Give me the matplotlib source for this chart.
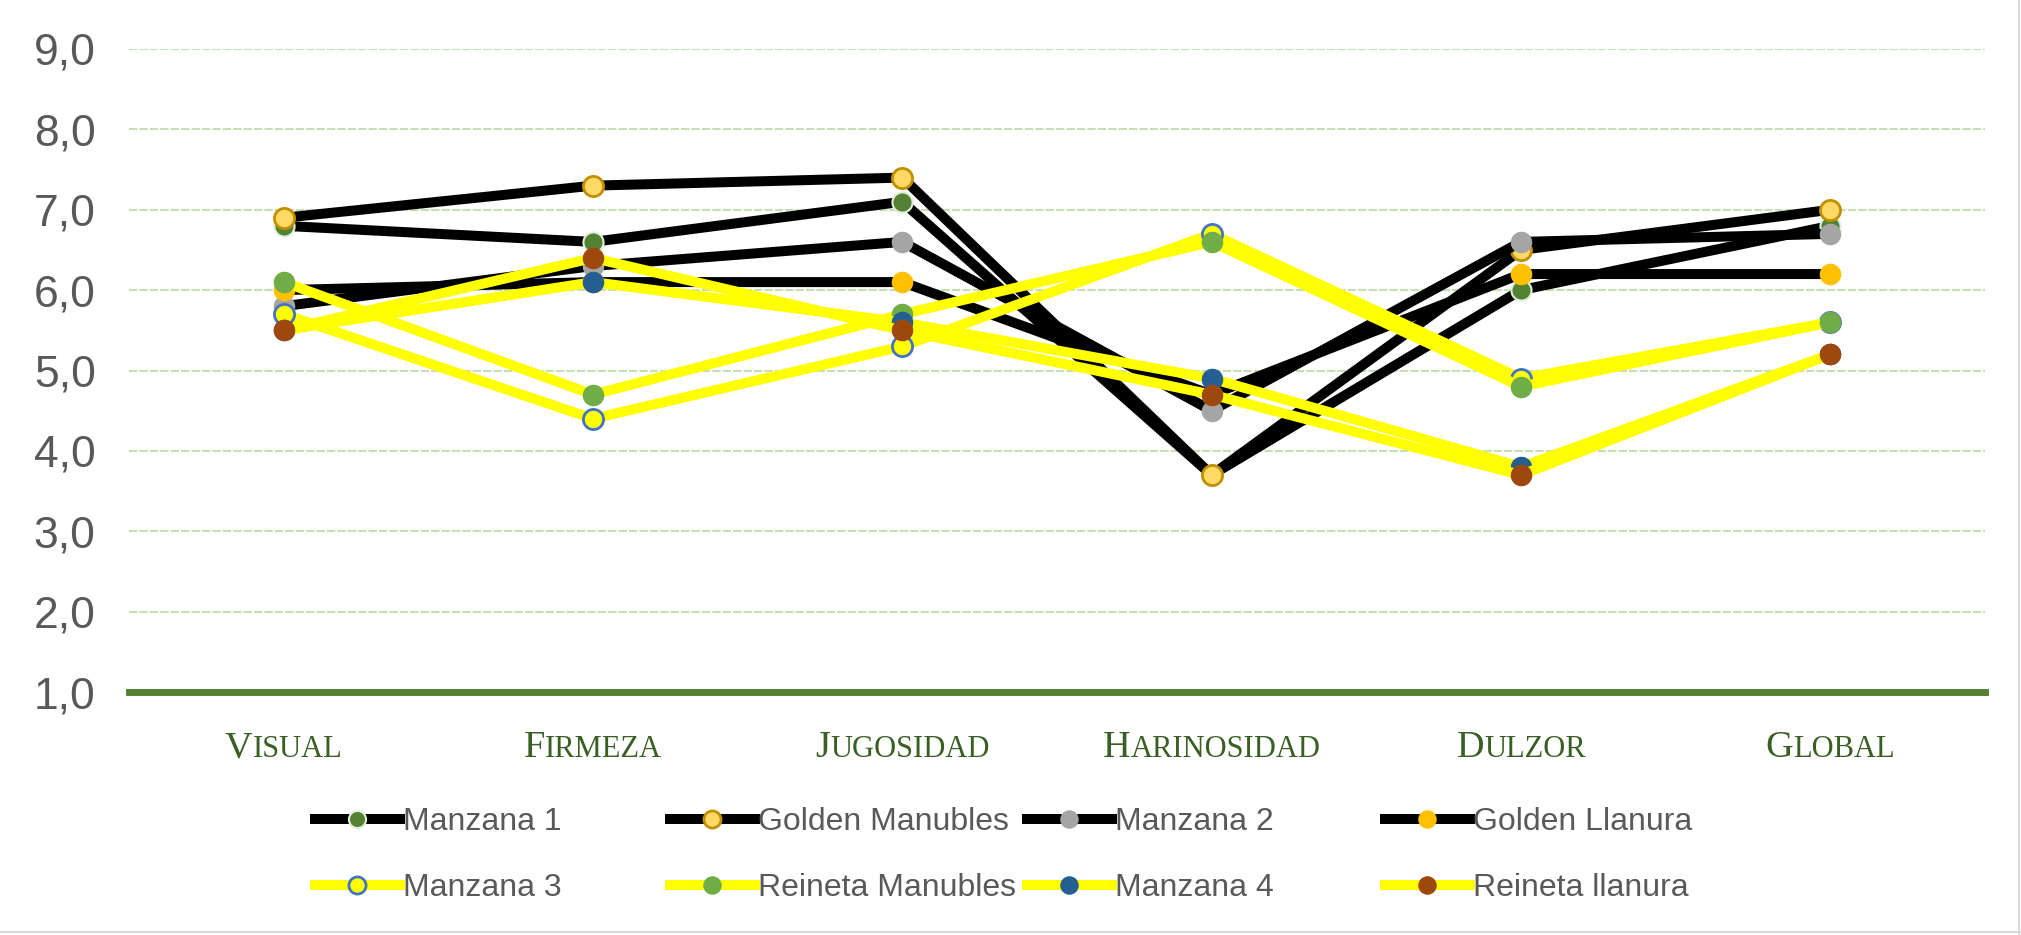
import matplotlib.pyplot as plt
from matplotlib.lines import Line2D

# Datos
categories = ['Visual', 'Firmeza', 'Jugosidad', 'Harinosidad', 'Dulzor', 'Global']
series_names = ['Manzana 1', 'Golden Manubles', 'Manzana 2', 'Golden Llanura',
                'Manzana 3', 'Reineta Manubles', 'Manzana 4', 'Reineta llanura']
manzana_1 = [6.8, 6.6, 7.1, 3.7, 6.0, 6.8]
golden_manubles = [6.9, 7.3, 7.4, 3.7, 6.5, 7.0]
manzana_2 = [5.8, 6.3, 6.6, 4.5, 6.6, 6.7]
golden_llanura = [6.0, 6.1, 6.1, 4.7, 6.2, 6.2]
manzana_3 = [5.7, 4.4, 5.3, 6.7, 4.9, 5.6]
reineta_manubles = [6.1, 4.7, 5.7, 6.6, 4.8, 5.6]
manzana_4 = [5.5, 6.1, 5.6, 4.9, 3.8, 5.2]
reineta_llanura = [5.5, 6.4, 5.5, 4.7, 3.7, 5.2]
y_ticks = [1, 2, 3, 4, 5, 6, 7, 8, 9]
y_tick_labels = ['1,0', '2,0', '3,0', '4,0', '5,0', '6,0', '7,0', '8,0', '9,0']

all_series = [manzana_1, golden_manubles, manzana_2, golden_llanura,
              manzana_3, reineta_manubles, manzana_4, reineta_llanura]

# Estilos: (color linea, relleno marcador, borde marcador, grosor borde)
styles = [
    ('black', '#548235', '#E2F0D9', 1.5),
    ('black', '#FFD966', '#BF9000', 2.0),
    ('black', '#A5A5A5', '#A5A5A5', 1.0),
    ('black', '#FFC000', '#FFC000', 1.0),
    ('#FFFF00', '#FFFF00', '#4472C4', 2.0),
    ('#FFFF00', '#70AD47', '#70AD47', 1.0),
    ('#FFFF00', '#255E91', '#255E91', 1.0),
    ('#FFFF00', '#9E480E', '#9E480E', 1.0),
]

W, H = 2021, 935
fig = plt.figure(figsize=(W / 100, H / 100), dpi=100)
ax = fig.add_axes([129 / W, 243 / H, (1985 - 129) / W, (692 - 49) / H])

x = list(range(len(categories)))
lines = []
for vals, name, (lc, fc, ec, mew) in zip(all_series, series_names, styles):
    ln, = ax.plot(x, vals, color=lc, lw=7.2, marker='o', ms=14.5,
                  markerfacecolor=fc, markeredgecolor=ec, markeredgewidth=mew,
                  solid_joinstyle='miter', label=name)
    lines.append(ln)

ax.set_xlim(-0.5, len(categories) - 0.5)
ax.set_ylim(1, 9)
ax.set_yticks(y_ticks)
ax.set_yticklabels(y_tick_labels, fontsize=32, color='#595959', family='Liberation Sans')
ax.tick_params(axis='y', length=0, pad=24)
ax.set_xticks(x)
ax.set_xticklabels([''] * len(categories))
ax.tick_params(axis='x', length=0)

for v in y_ticks[1:]:
    ax.axhline(v, color='#C5E0B4', lw=1.5, ls=(0, (4, 1)), zorder=0)

for s in ['top', 'right', 'left']:
    ax.spines[s].set_visible(False)
ax.spines['bottom'].set_color('#548235')
ax.spines['bottom'].set_linewidth(5)
ax.spines['bottom'].set_zorder(0.5)

# Etiquetas del eje X en versalitas
fig.canvas.draw()
renderer = fig.canvas.get_renderer()
green = '#3A5F24'
for i, name in enumerate(categories):
    t1 = ax.annotate(name[0], xy=(i, 0), xycoords=('data', 'axes fraction'),
                     xytext=(0, -47), textcoords='offset points', ha='left', va='baseline',
                     fontsize=27.5, color=green, family='Liberation Serif')
    t2 = ax.annotate(name[1:].upper(), xy=(i, 0), xycoords=('data', 'axes fraction'),
                     xytext=(0, -47), textcoords='offset points', ha='left', va='baseline',
                     fontsize=22, color=green, family='Liberation Serif')
    w1 = t1.get_window_extent(renderer).width
    w2 = t2.get_window_extent(renderer).width
    start = -(w1 + w2) / 2 * 72 / fig.dpi
    t1.set_position((start, -47))
    t2.set_position((start + w1 * 72 / fig.dpi, -47))

# Leyenda: una entrada por posicion
legend_x = [315, 670, 1027, 1385]
legend_y = [822, 888]
for k, ln in enumerate(lines):
    col = k % 4
    row = k // 4
    fig.legend([ln], [series_names[k]], loc='center left',
               bbox_to_anchor=(legend_x[col] / W, 1 - legend_y[row] / H),
               frameon=False, borderpad=0, borderaxespad=0,
               handlelength=2.65, handletextpad=0.12, markerscale=0.85,
               prop={'family': 'Liberation Sans', 'size': 23}, labelcolor='#595959')

# Borde del grafico
fig.add_artist(Line2D([1 - 2 / W, 1 - 2 / W], [0, 1], color='#D9D9D9', lw=1.5))
fig.add_artist(Line2D([0, 1], [3 / H, 3 / H], color='#D9D9D9', lw=1.5))

fig.savefig('out.png', dpi=100)
plt.close()
